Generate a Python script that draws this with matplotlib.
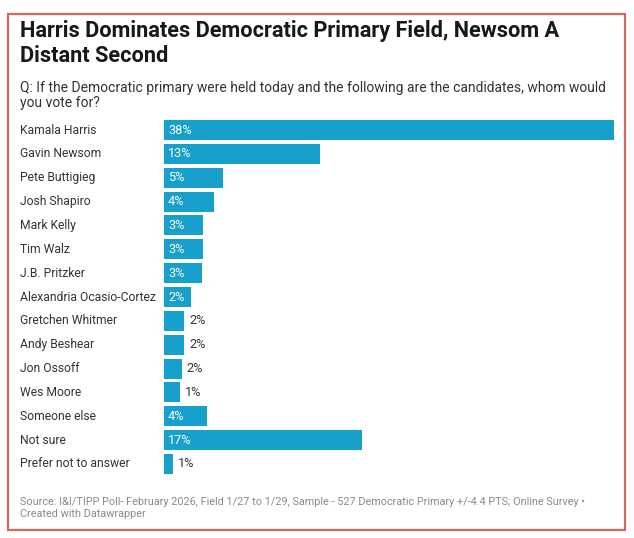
import matplotlib.pyplot as plt
import matplotlib.transforms as mtransforms
from matplotlib.patches import Rectangle

plt.rcParams['font.family'] = ['Roboto', 'DejaVu Sans']

# Data (bar lengths are unrounded, labels rounded)
candidates = ["Kamala Harris", "Gavin Newsom", "Pete Buttigieg", "Josh Shapiro",
              "Mark Kelly", "Tim Walz", "J.B. Pritzker", "Alexandria Ocasio-Cortez",
              "Gretchen Whitmer", "Andy Beshear", "Jon Ossoff", "Wes Moore",
              "Someone else", "Not sure", "Prefer not to answer"]
values = [38.0, 13.2, 5.0, 4.25, 3.3, 3.27, 3.18, 2.25,
          1.69, 1.69, 1.49, 1.33, 3.6, 16.75, 0.76]
labels = ["38%", "13%", "5%", "4%", "3%", "3%", "3%", "2%",
          "2%", "2%", "2%", "1%", "4%", "17%", "1%"]

W, H = 634, 538
fig = plt.figure(figsize=(W / 100, H / 100), dpi=100)

bar_color = "#18a0cd"

# axes placed so bars start at x=164px and Harris ends at 614px
top_px, bot_px = 118.1, 475.9
ax = fig.add_axes([164 / W, 1 - bot_px / H, (614 - 164) / W, (bot_px - top_px) / H])
y = list(range(len(candidates)))
ax.barh(y, values, height=0.84, color=bar_color)
ax.set_xlim(0, 38.0)
ax.set_ylim(len(candidates) - 0.5, -0.5)
ax.axis('off')

px = 1 / W  # one pixel in figure fraction
lab_tr = mtransforms.blended_transform_factory(fig.transFigure, ax.transData)
for i, name in enumerate(candidates):
    fig.text(20.5 * px, i, name, transform=lab_tr, ha='left', va='center',
             fontsize=8.7, color="#333333")

off = mtransforms.offset_copy(ax.transData, fig=fig, x=4, y=0, units='dots')
off_out = mtransforms.offset_copy(ax.transData, fig=fig, x=5, y=0, units='dots')
for i, (v, lab) in enumerate(zip(values, labels)):
    if v > 2:
        ax.text(0, i, lab, transform=off, ha='left', va='center',
                fontsize=9.2, color="white")
    else:
        ax.text(v, i, lab, transform=off_out, ha='left', va='center',
                fontsize=9.2, color="#333333")

# title, subtitle, footer (positions are baselines in px from top)
def put(ypx, s, **kw):
    fig.text(20.5 * px, 1 - ypx / H, s, va='baseline', **kw)

put(36.7, "Harris Dominates Democratic Primary Field, Newsom A",
    fontsize=15.7, fontweight='bold', color="#181818")
put(61.7, "Distant Second", fontsize=15.7, fontweight='bold', color="#181818")
put(91.7, "Q: If the Democratic primary were held today and the following are the candidates, whom would",
    fontsize=10.0, color="#333333")
put(107, "you vote for?", fontsize=10.0, color="#333333")
put(505, "Source: I&I/TIPP Poll- February 2026, Field 1/27 to 1/29, Sample - 527 Democratic Primary +/-4.4 PTS; Online Survey \u2022",
    fontsize=7.85, color="#8a8a8a")
put(517.3, "Created with Datawrapper", fontsize=7.85, color="#8a8a8a")

# red frame around the graphic
fig.patches.append(Rectangle((7.5 / W, 1 - 529.5 / H), (625 - 7.5) / W, (529.5 - 14) / H,
                             transform=fig.transFigure, fill=False,
                             edgecolor="#d4675b", linewidth=1.6))

fig.savefig("out.png", dpi=100)
